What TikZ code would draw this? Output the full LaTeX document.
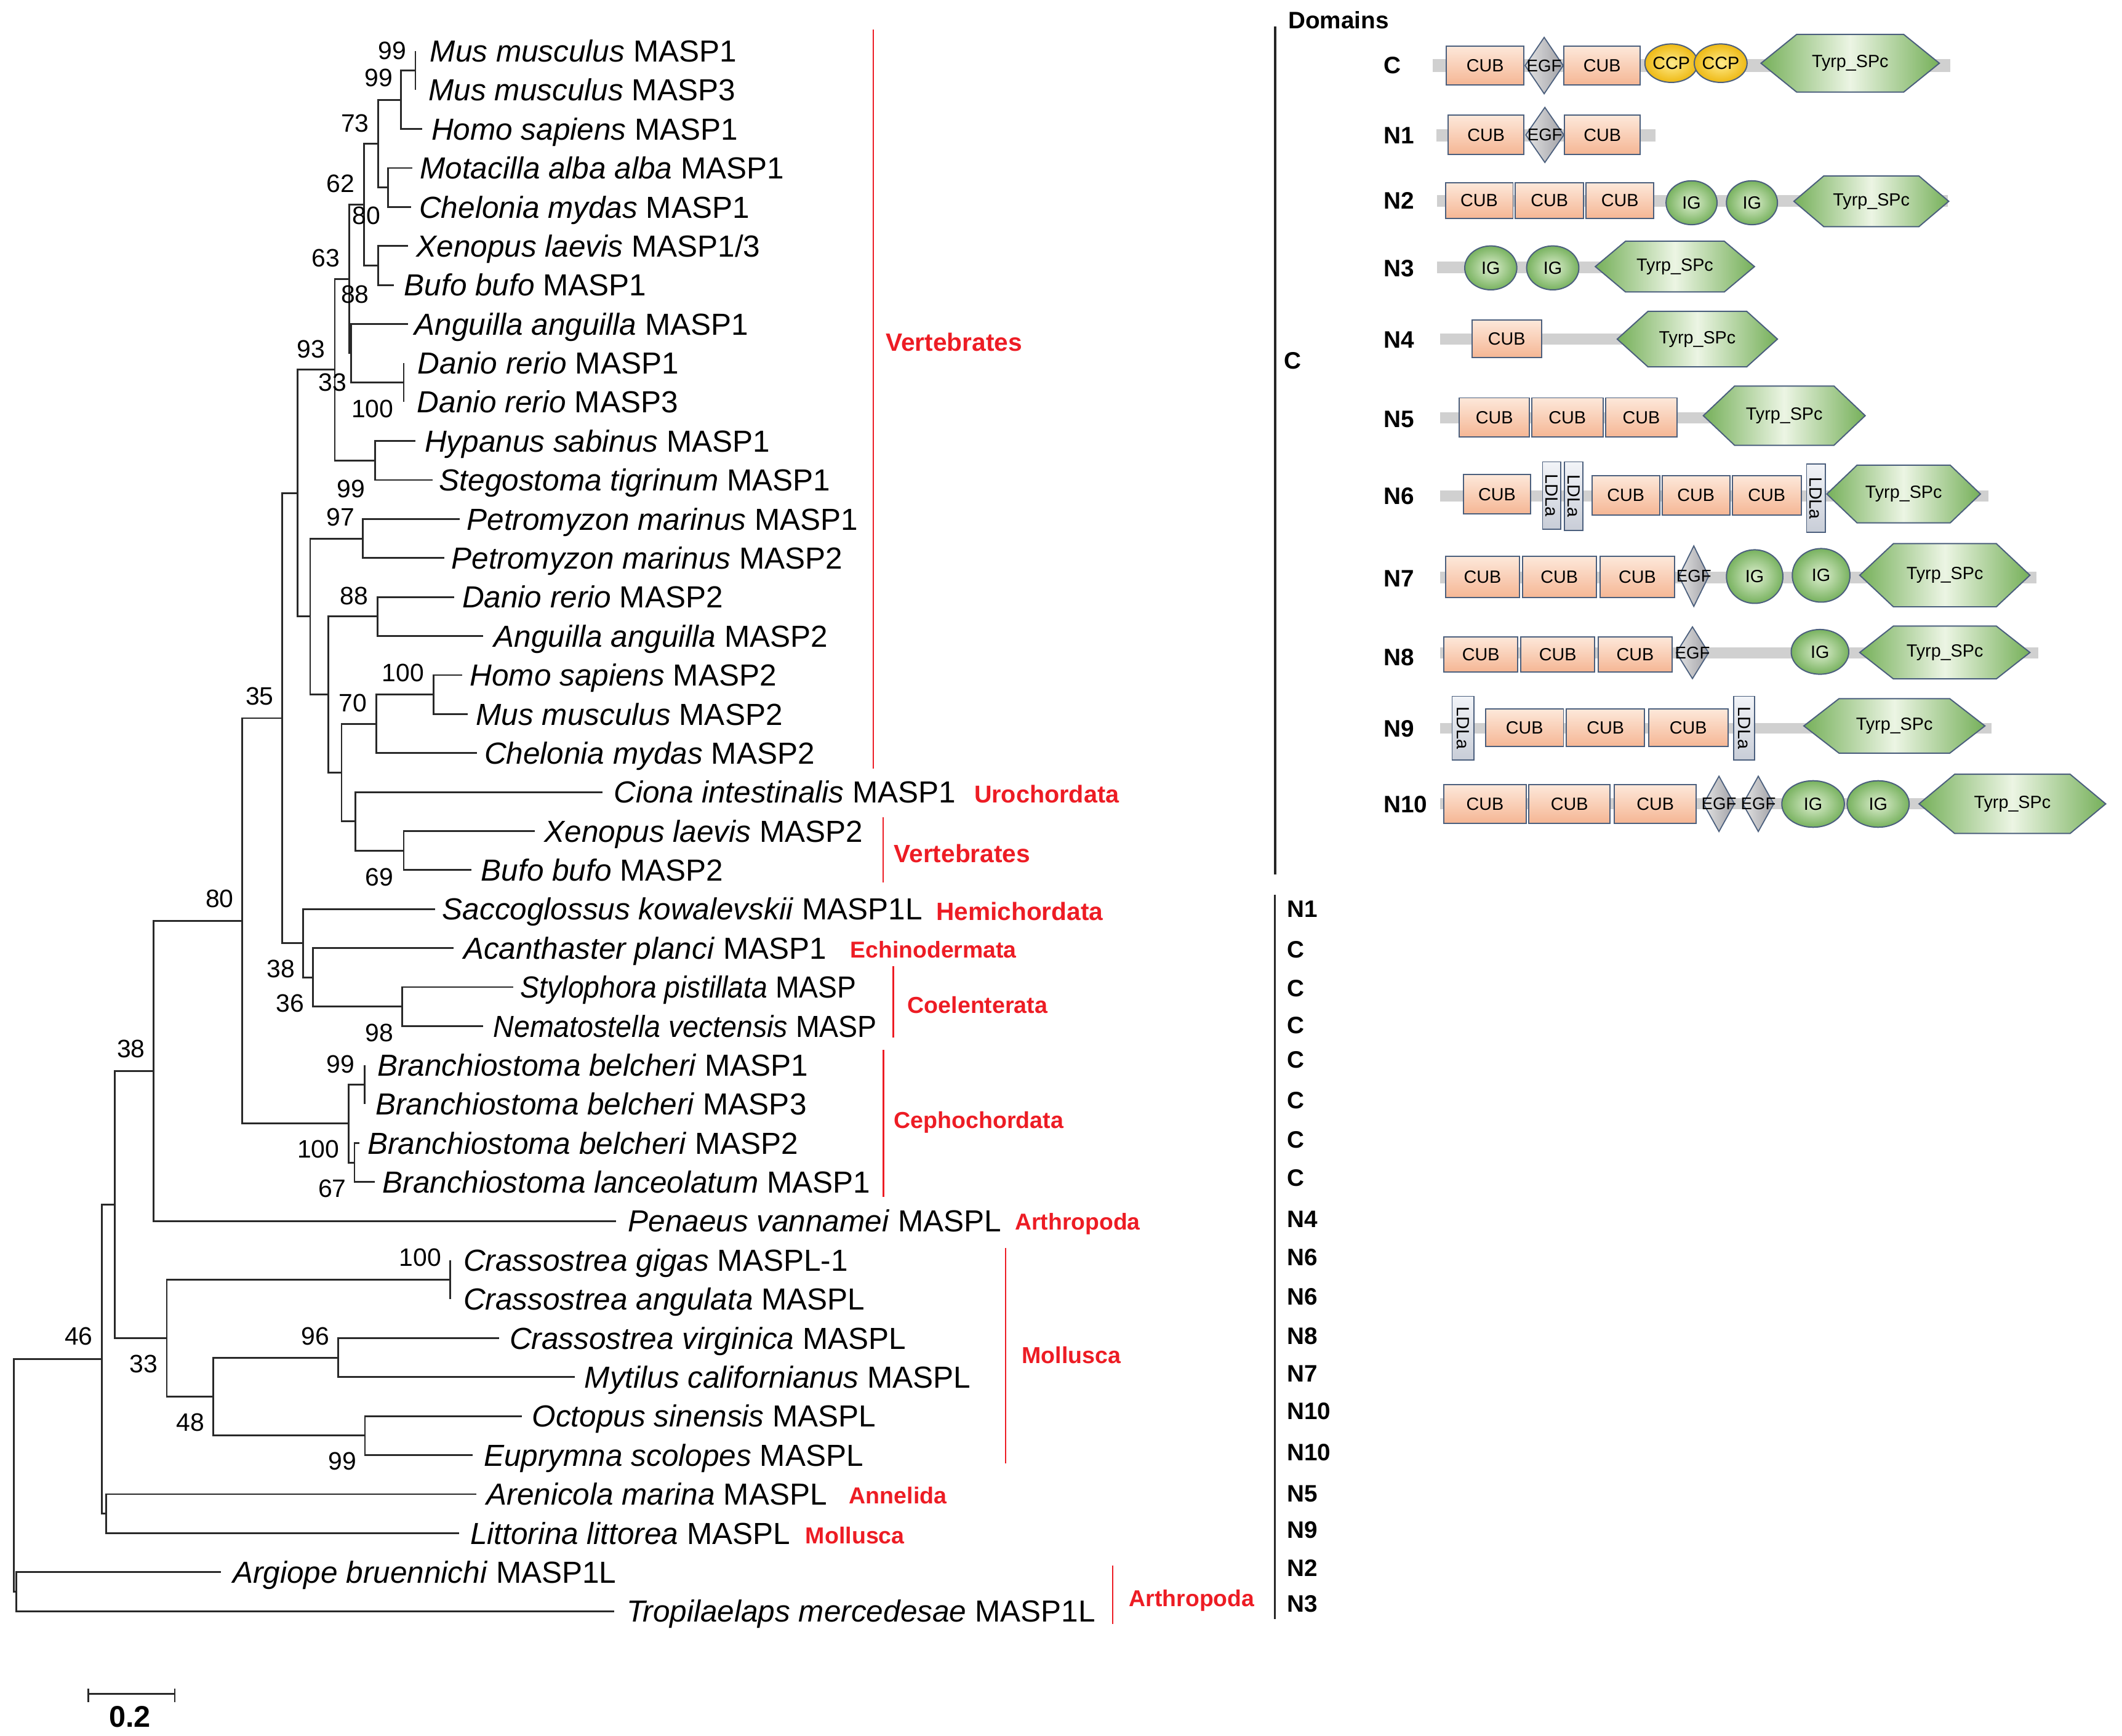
\documentclass[tikz,border=0pt]{standalone}
\usepackage{fontspec}
\setmainfont{Liberation Sans}
\usepackage{graphicx}
\usepackage{tikz}
\usetikzlibrary{shapes.geometric}

\definecolor{treegrey}{RGB}{40,40,40}
\definecolor{cladered}{RGB}{237,28,36}
\definecolor{domline}{RGB}{75,95,125}
\definecolor{cubtop}{RGB}{253,232,218}
\definecolor{cubbot}{RGB}{245,182,148}
\definecolor{egflight}{RGB}{228,228,228}
\definecolor{egfdark}{RGB}{160,160,165}
\definecolor{iginner}{RGB}{222,239,208}
\definecolor{igouter}{RGB}{120,178,95}
\definecolor{ccpinner}{RGB}{255,236,140}
\definecolor{ccpouter}{RGB}{238,185,20}
\definecolor{spclight}{RGB}{236,245,228}
\definecolor{spcdark}{RGB}{118,176,90}
\definecolor{ldlalight}{RGB}{242,244,248}
\definecolor{ldladark}{RGB}{200,205,215}
\definecolor{bargrey}{RGB}{208,208,208}

\newcommand\taxonfont{\fontsize{22.4}{26}\selectfont}
\newcommand\bootfont{\fontsize{18.5}{22}\selectfont}
\newcommand\codefont{\fontsize{17.5}{21}\selectfont\bfseries}
\newcommand\domfont{\fontsize{13}{15}\selectfont}
\newcommand\egffont{\fontsize{12.5}{14}\selectfont}

\tikzset{
  branch/.style={draw=treegrey, line width=1.3pt},
  taxon/.style={anchor=west, inner sep=0pt, font=\taxonfont, text height=16pt, text depth=0pt},
  bootval/.style={anchor=east, inner sep=0pt, font=\bootfont, text height=13.2pt, text depth=0pt},
  cladelab/.style={anchor=west, inner sep=0pt, text=cladered, text height=12.8pt, text depth=0pt},
  cladeline/.style={draw=cladered, line width=1.2pt},
  groupline/.style={draw=black!85, line width=1.6pt},
  domcode/.style={anchor=west, inner sep=0pt, font=\codefont, text height=12.5pt, text depth=0pt},
  barfill/.style={fill=bargrey},
  domtext/.style={inner sep=0pt, font=\domfont},
  cubbox/.style={rectangle, draw=domline, line width=0.9pt, top color=cubtop, bottom color=cubbot, inner sep=0pt, font=\domfont},
  egfbox/.style={diamond, draw=domline, line width=0.8pt, left color=egflight, right color=egfdark, inner sep=0pt},
  egftext/.style={inner sep=0pt, font=\egffont},
  igball/.style={ellipse, draw=domline, line width=0.9pt, inner color=iginner, outer color=igouter, inner sep=0pt, font=\domfont},
  ccpball/.style={ellipse, draw=domline, line width=0.9pt, inner color=ccpinner, outer color=ccpouter, inner sep=0pt, font=\domfont},
  ldlabox/.style={rectangle, rotate=-90, draw=domline, line width=0.8pt, top color=ldlalight, bottom color=ldladark, inner sep=0pt, font=\domfont},
  spcshade/.style={draw=domline, line width=0.9pt, left color=spcdark, right color=spcdark, middle color=spclight}
}

% leaf: [squeeze], name, row, tip x, text x, italic part, gene
\newcommand\leaf[7][1]{%
  \coordinate (#2) at (#4,{37.5+(#3-1)*28.675});
  \node[taxon] (#2txt) at (#5,{37.5+(#3-1)*28.675}) {\scalebox{#1}[1]{\textit{#6} #7}};}

% EGF diamond: name, x, y, width, height
\newcommand\egf[5]{%
  \node[egfbox, minimum width=#4pt, minimum height=#5pt] (#1) at (#2,#3) {};
  \node[egftext] (#1txt) at (#2,#3) {EGF};}

% Tyrp_SPc hexagon: name, left x, right x, centre y, half height, inset
\newcommand\tyrp[6]{%
  \path[spcshade] (#2,#4) -- (#2+#6,#4-#5) -- (#3-#6,#4-#5) -- (#3,#4)
    -- (#3-#6,#4+#5) -- (#2+#6,#4+#5) -- cycle;
  \node[domtext] (#1) at ({(#2+#3)/2},#4) {Tyrp\_SPc};}

\begin{document}
\begin{tikzpicture}[x=1pt, y=-1pt]
\useasboundingbox (0,0) rectangle (1560,1276.3);

% taxa
\leaf{mmu1}{1}{305.4}{316}{Mus musculus}{MASP1}
\leaf{mmu3}{2}{305.4}{315}{Mus musculus}{MASP3}
\leaf{hsa1}{3}{310.3}{317}{Homo sapiens}{MASP1}
\leaf{mal1}{4}{303}{308.5}{Motacilla alba alba}{MASP1}
\leaf{cmy1}{5}{302}{308}{Chelonia mydas}{MASP1}
\leaf{xla13}{6}{299.8}{306}{Xenopus laevis}{MASP1/3}
\leaf{bbu1}{7}{289.5}{297}{Bufo bufo}{MASP1}
\leaf{aan1}{8}{299.8}{304.6}{Anguilla anguilla}{MASP1}
\leaf{dre1}{9}{296.8}{307}{Danio rerio}{MASP1}
\leaf{dre3}{10}{296.8}{306.5}{Danio rerio}{MASP3}
\leaf{hsb1}{11}{305.4}{312}{Hypanus sabinus}{MASP1}
\leaf{sti1}{12}{317.9}{322.7}{Stegostoma tigrinum}{MASP1}
\leaf{pma1}{13}{337.8}{343}{Petromyzon marinus}{MASP1}
\leaf{pma2}{14}{326.5}{331.7}{Petromyzon marinus}{MASP2}
\leaf{dre2}{15}{334}{339.6}{Danio rerio}{MASP2}
\leaf{aan2}{16}{355.1}{363}{Anguilla anguilla}{MASP2}
\leaf{hsa2}{17}{340}{345.3}{Homo sapiens}{MASP2}
\leaf{mmu2}{18}{343.8}{349.8}{Mus musculus}{MASP2}
\leaf{cmy2}{19}{350.6}{355.9}{Chelonia mydas}{MASP2}
\leaf{cin1}{20}{443}{451}{Ciona intestinalis}{MASP1}
\leaf{xla2}{21}{393}{400}{Xenopus laevis}{MASP2}
\leaf{bbu2}{22}{346.5}{353.5}{Bufo bufo}{MASP2}
\leaf{sko1}{23}{319.8}{325}{Saccoglossus kowalevskii}{MASP1L}
\leaf{apl1}{24}{333.6}{340.5}{Acanthaster planci}{MASP1}
\leaf[0.935]{spi}{25}{377.2}{382.5}{Stylophora pistillata}{MASP}
\leaf[0.94]{nve}{26}{355.2}{362.5}{Nematostella vectensis}{MASP}
\leaf{bbe1}{27}{268.2}{277.3}{Branchiostoma belcheri}{MASP1}
\leaf{bbe3}{28}{268.2}{276}{Branchiostoma belcheri}{MASP3}
\leaf{bbe2}{29}{264.4}{270}{Branchiostoma belcheri}{MASP2}
\leaf{bla1}{30}{275.6}{281}{Branchiostoma lanceolatum}{MASP1}
\leaf{pva}{31}{453}{461.5}{Penaeus vannamei}{MASPL}
\leaf{cgi}{32}{331}{340.5}{Crassostrea gigas}{MASPL-1}
\leaf{can}{33}{331}{340.5}{Crassostrea angulata}{MASPL}
\leaf{cvi}{34}{367}{374.5}{Crassostrea virginica}{MASPL}
\leaf{mca}{35}{422.4}{429.5}{Mytilus californianus}{MASPL}
\leaf{osi}{36}{383.5}{391}{Octopus sinensis}{MASPL}
\leaf{esc}{37}{347.5}{355.5}{Euprymna scolopes}{MASPL}
\leaf{ama}{38}{350}{357.5}{Arenicola marina}{MASPL}
\leaf{lli}{39}{337.5}{345.5}{Littorina littorea}{MASPL}
\leaf{abr}{40}{162.4}{171}{Argiope bruennichi}{MASP1L}
\leaf{tme}{41}{451.5}{460.5}{Tropilaelaps mercedesae}{MASP1L}

% inner nodes
\coordinate (mus) at (305.4,51.85);
\coordinate (na) at (294.8,73.35);
\coordinate (motch) at (285.3,137.85);
\coordinate (nb) at (278.2,105.6);
\coordinate (xenbuf) at (278.2,195.2);
\coordinate (nc) at (267.7,150.4);
\coordinate (dre13) at (296.8,281.25);
\coordinate (ne) at (258.2,259.7);
\coordinate (nd) at (256.6,205.05);
\coordinate (hypsteg) at (275.6,338.6);
\coordinate (nf) at (246.1,271.8);
\coordinate (petro) at (266.9,395.95);
\coordinate (draa2) at (277.5,453.3);
\coordinate (hsmm2) at (318.9,510.65);
\coordinate (nl) at (276.7,532.15);
\coordinate (xbuf2) at (296.8,625.35);
\coordinate (nm) at (261.2,603.8);
\coordinate (nk) at (251.1,568);
\coordinate (nj) at (241.3,510.65);
\coordinate (nh) at (228,453.3);
\coordinate (ng) at (218.6,362.55);
\coordinate (coel) at (295.5,740.05);
\coordinate (nr) at (230.1,718.5);
\coordinate (nq) at (222.8,693.4);
\coordinate (ni) at (207.3,528);
\coordinate (bb13) at (268.2,797.4);
\coordinate (bb2l) at (260.6,854.75);
\coordinate (np) at (256.2,826.1);
\coordinate (nn) at (178.2,677.05);
\coordinate (no) at (112.9,787.4);
\coordinate (cras) at (331,940.75);
\coordinate (nw) at (248.7,998.1);
\coordinate (nx) at (268.3,1055.45);
\coordinate (nv) at (156.7,1026.8);
\coordinate (nu) at (122.6,983.8);
\coordinate (ns) at (84.3,885.6);
\coordinate (ny) at (78.2,1112.8);
\coordinate (nt) at (74.8,999.2);
\coordinate (naa) at (11.8,1170.15);
\coordinate (root) at (10,1084.7);

% branches
\foreach \p/\c in {mus/mmu1, mus/mmu3, na/mus, na/hsa1, motch/mal1, motch/cmy1,
    nb/na, nb/motch, xenbuf/xla13, xenbuf/bbu1, nc/nb, nc/xenbuf,
    dre13/dre1, dre13/dre3, ne/aan1, ne/dre13, nd/nc, nd/ne,
    hypsteg/hsb1, hypsteg/sti1, nf/nd, nf/hypsteg,
    petro/pma1, petro/pma2, draa2/dre2, draa2/aan2,
    hsmm2/hsa2, hsmm2/mmu2, nl/hsmm2, nl/cmy2, xbuf2/xla2, xbuf2/bbu2,
    nm/cin1, nm/xbuf2, nk/nl, nk/nm, nj/draa2, nj/nk, nh/petro, nh/nj,
    ng/nf, ng/nh, coel/spi, coel/nve, nr/apl1, nr/coel, nq/sko1, nq/nr,
    ni/ng, ni/nq, bb13/bbe1, bb13/bbe3, bb2l/bbe2, bb2l/bla1, np/bb13, np/bb2l,
    nn/ni, nn/np, no/nn, no/pva, cras/cgi, cras/can, nw/cvi, nw/mca,
    nx/osi, nx/esc, nv/nw, nv/nx, nu/cras, nu/nv, ns/no, ns/nu,
    ny/ama, ny/lli, nt/ns, nt/ny, naa/abr, naa/tme, root/nt, root/naa}
  \draw[branch] (\p) |- (\c);

% bootstrap values
\foreach \x/\y/\v [count=\i] in {299/37/99, 289/57/99, 271.5/90.5/73, 261/135/62,
    280/158.5/80, 250/189.5/63, 271.5/216/88, 239/256.5/93, 255/281/33,
    289.5/300.5/100, 268.4/359/99, 261/380/97, 270.7/438/88, 312/494.5/100,
    270/516.5/70, 201.3/511.7/35, 289.5/644.5/69, 172/660.6/80, 216.8/712/38,
    223.7/737.4/36, 289.5/759/98, 261/782/99, 249.7/844.5/100, 254.8/873.8/67,
    106.8/770.8/38, 324.5/924.3/100, 242.3/982/96, 116/1002.7/33,
    150.3/1045.5/48, 262.2/1074/99, 68.4/982/46}
  \node[bootval] (bs\i) at (\x,\y) {\v};

% clade names and bars
\foreach \x/\y/\s/\t [count=\i] in {651/251.5/18.4/Vertebrates, 716/584/17.9/Urochordata,
    657/627.5/18.4/Vertebrates, 688/670/18.4/Hemichordata, 625/698/16.9/Echinodermata,
    667/738.5/17/Coelenterata, 657/823/17/Cephochordata, 746/898/16.9/Arthropoda,
    751/996/17/Mollusca, 624/1099/17/Annelida, 592/1128.5/17/Mollusca, 830/1174.5/16.9/Arthropoda}
  \node[cladelab, font=\fontsize{\s}{22}\selectfont\bfseries] (cl\i) at (\x,\y) {\t};
\foreach \x/\ya/\yb in {642/21.6/565, 649.2/601/649, 656.8/710.2/762.7,
    649.6/771.8/879.8, 739.3/917.4/1075.7, 818/1151/1193.8}
  \draw[cladeline] (\x,\ya) -- (\x,\yb);

% domain types per taxon
\draw[groupline] (937.5,19.5) -- (937.5,643);
\draw[groupline] (937.3,657.8) -- (937.3,1190.3);
\node[domcode] (domains) at (946.9,15) {Domains};
\node[domcode] (grpC) at (944,265) {C};
\foreach \c/\y [count=\i] in {N1/668, C/697.9, C/726.4, C/753.4, C/778.9, C/808.9,
    C/837.8, C/865.9, N4/895.9, N6/924, N6/953.3, N8/982.2, N7/1009.5,
    N10/1037.3, N10/1067.7, N5/1097.7, N9/1124.7, N2/1152.8, N3/1179}
  \node[domcode] (dc\i) at (946,\y) {\c};

% scale bar
\coordinate (sbL) at (64.8,1245.5);
\coordinate (sbR) at (128.5,1245.5);
\draw[branch] (sbL) -- (sbR);
\draw[branch] (sbL) ++(0,-4) -- ++(0,10);
\draw[branch] (sbR) ++(0,-4) -- ++(0,10);
\node[font=\fontsize{22}{26}\selectfont\bfseries, inner sep=0pt] (sbtxt) at (95.5,1262) {0.2};

% domain architectures
\foreach \r/\y in {C/48, N1/99.4, N2/147.5, N3/197, N4/249.5, N5/307.8,
    N6/364.4, N7/425, N8/483, N9/535.5, N10/591}
  \node[domcode] (row\r) at (1017,\y) {\r};

% C
\fill[barfill] (1053.4,43.5) rectangle (1433.8,52.9);
\node[cubbox, minimum width=56.9pt, minimum height=28.7pt] (cubC1) at (1091.85,48.25) {CUB};
\egf{egfC}{1135.2}{48.2}{28.3}{41.8}
\node[cubbox, minimum width=56pt, minimum height=28.7pt] (cubC2) at (1177.8,48.25) {CUB};
\node[ccpball, minimum width=35.1pt, minimum height=28.3pt] (ccpC1) at (1228.65,46.45) {CCP};
\node[ccpball, minimum width=35.1pt, minimum height=28.3pt] (ccpC2) at (1264.95,46.45) {CCP};
\tyrp{spcC}{1294.6}{1425.7}{46.5}{21.2}{26.2}

% N1
\fill[barfill] (1055.8,95) rectangle (1217.1,104);
\node[cubbox, minimum width=55.6pt, minimum height=28.7pt] (cubNa1) at (1092.5,99.15) {CUB};
\egf{egfNa}{1135.7}{99.2}{28.3}{40.8}
\node[cubbox, minimum width=55.6pt, minimum height=28.7pt] (cubNa2) at (1178,99.15) {CUB};

% N2
\fill[barfill] (1056.6,143.4) rectangle (1432,151.9);
\node[cubbox, minimum width=49.7pt, minimum height=26.3pt] (cubNb1) at (1087.45,147.45) {CUB};
\node[cubbox, minimum width=50.4pt, minimum height=26.3pt] (cubNb2) at (1139.1,147.45) {CUB};
\node[cubbox, minimum width=50pt, minimum height=26.3pt] (cubNb3) at (1190.9,147.45) {CUB};
\node[igball, minimum width=37.5pt, minimum height=32.3pt] (igNb1) at (1243.55,149.05) {IG};
\node[igball, minimum width=37.5pt, minimum height=32.3pt] (igNb2) at (1287.95,149.05) {IG};
\tyrp{spcNb}{1318.8}{1432.6}{148}{18.7}{22}

% N3
\fill[barfill] (1056.6,192.2) rectangle (1177.6,200.8);
\node[igball, minimum width=38.3pt, minimum height=32.3pt] (igNc1) at (1095.95,196.95) {IG};
\node[igball, minimum width=38.4pt, minimum height=32.3pt] (igNc2) at (1141.5,196.95) {IG};
\tyrp{spcNc}{1172.8}{1289.8}{196}{18.65}{22.2}

% N4
\fill[barfill] (1058.6,245.4) rectangle (1209.9,253.5);
\node[cubbox, minimum width=51.2pt, minimum height=27.7pt] (cubNd1) at (1107.6,249.15) {CUB};
\tyrp{spcNd}{1188.9}{1306.7}{249.3}{20.4}{22.6}

% N5
\fill[barfill] (1058.6,303.2) rectangle (1262,311.3);
\node[cubbox, minimum width=51.7pt, minimum height=28.9pt] (cubNe1) at (1098.55,306.95) {CUB};
\node[cubbox, minimum width=52.4pt, minimum height=28.9pt] (cubNe2) at (1152.2,306.95) {CUB};
\node[cubbox, minimum width=52.5pt, minimum height=28.9pt] (cubNe3) at (1206.65,306.95) {CUB};
\tyrp{spcNe}{1252.2}{1371.2}{305.6}{21.8}{23}

% N6
\fill[barfill] (1058.6,360.4) rectangle (1462,368.8);
\node[cubbox, minimum width=49.3pt, minimum height=28.9pt] (cubNf1) at (1100.55,363.45) {CUB};
\node[ldlabox, minimum width=49.5pt, minimum height=13.4pt] (ldlaNf1) at (1140.7,364.25) {LDLa};
\node[ldlabox, minimum width=50.5pt, minimum height=13.3pt] (ldlaNf2) at (1156.85,364.75) {LDLa};
\node[cubbox, minimum width=49.6pt, minimum height=29.3pt] (cubNf2) at (1195.2,364.25) {CUB};
\node[cubbox, minimum width=49.6pt, minimum height=29.3pt] (cubNf3) at (1246.8,364.25) {CUB};
\node[cubbox, minimum width=50.5pt, minimum height=29.3pt] (cubNf4) at (1298.85,364.25) {CUB};
\node[ldlabox, minimum width=50.5pt, minimum height=13.7pt] (ldlaNf3) at (1334.95,366.25) {LDLa};
\tyrp{spcNf}{1343}{1455.9}{363.2}{21.2}{22.2}

% N7
\fill[barfill] (1058.6,420.4) rectangle (1497.1,429);
\node[cubbox, minimum width=54.5pt, minimum height=30.3pt] (cubNg1) at (1089.85,424.35) {CUB};
\node[cubbox, minimum width=54.5pt, minimum height=30.3pt] (cubNg2) at (1146.35,424.35) {CUB};
\node[cubbox, minimum width=54.5pt, minimum height=30.3pt] (cubNg3) at (1203.65,424.35) {CUB};
\egf{egfNg}{1245.2}{423.6}{22.2}{44.8}
\node[igball, minimum width=41.5pt, minimum height=39.4pt] (igNg1) at (1289.95,423.9) {IG};
\node[igball, minimum width=42.4pt, minimum height=39.4pt] (igNg2) at (1338.8,423) {IG};
\tyrp{spcNg}{1367.2}{1492.3}{422.9}{23.2}{24.7}

% N8
\fill[barfill] (1058.6,475.9) rectangle (1498.3,484);
\node[cubbox, minimum width=54.5pt, minimum height=25.8pt] (cubNh1) at (1088.65,481.1) {CUB};
\node[cubbox, minimum width=54.5pt, minimum height=25.8pt] (cubNh2) at (1145.15,481.1) {CUB};
\node[cubbox, minimum width=54.5pt, minimum height=25.8pt] (cubNh3) at (1202.05,481.1) {CUB};
\egf{egfNh}{1244.2}{479.9}{24}{38.4}
\node[igball, minimum width=42.3pt, minimum height=32.9pt] (igNh1) at (1337.95,479.25) {IG};
\tyrp{spcNh}{1367.2}{1492.3}{479.7}{19.4}{24.7}

% N9
\fill[barfill] (1058.6,531.5) rectangle (1464,539.5);
\node[ldlabox, minimum width=46.8pt, minimum height=16.1pt] (ldlaNi1) at (1075.55,535.3) {LDLa};
\node[cubbox, minimum width=57.3pt, minimum height=27.6pt] (cubNi1) at (1120.75,535.2) {CUB};
\node[cubbox, minimum width=57.7pt, minimum height=27.6pt] (cubNi2) at (1180.25,535.2) {CUB};
\node[cubbox, minimum width=58.5pt, minimum height=27.6pt] (cubNi3) at (1241.15,535.2) {CUB};
\node[ldlabox, minimum width=46.8pt, minimum height=15.4pt] (ldlaNi2) at (1282.1,535.3) {LDLa};
\tyrp{spcNi}{1326.1}{1459.2}{533.7}{20}{25.8}

% N10
\fill[barfill] (1058.6,587) rectangle (1540,595);
\node[cubbox, minimum width=60.5pt, minimum height=28.3pt] (cubNj1) at (1091.65,591.05) {CUB};
\node[cubbox, minimum width=59.8pt, minimum height=28.3pt] (cubNj2) at (1153.8,591.05) {CUB};
\node[cubbox, minimum width=60.1pt, minimum height=28.3pt] (cubNj3) at (1216.95,591.05) {CUB};
\egf{egfNj1}{1263.7}{591}{23}{41}
\egf{egfNj2}{1292.6}{591}{23}{41}
\node[igball, minimum width=46pt, minimum height=34.2pt] (igNj1) at (1332.9,591.1) {IG};
\node[igball, minimum width=45.6pt, minimum height=34.2pt] (igNj2) at (1380.7,591.1) {IG};
\tyrp{spcNj}{1410.8}{1548}{591}{21.8}{26.2}

\end{tikzpicture}
\end{document}
